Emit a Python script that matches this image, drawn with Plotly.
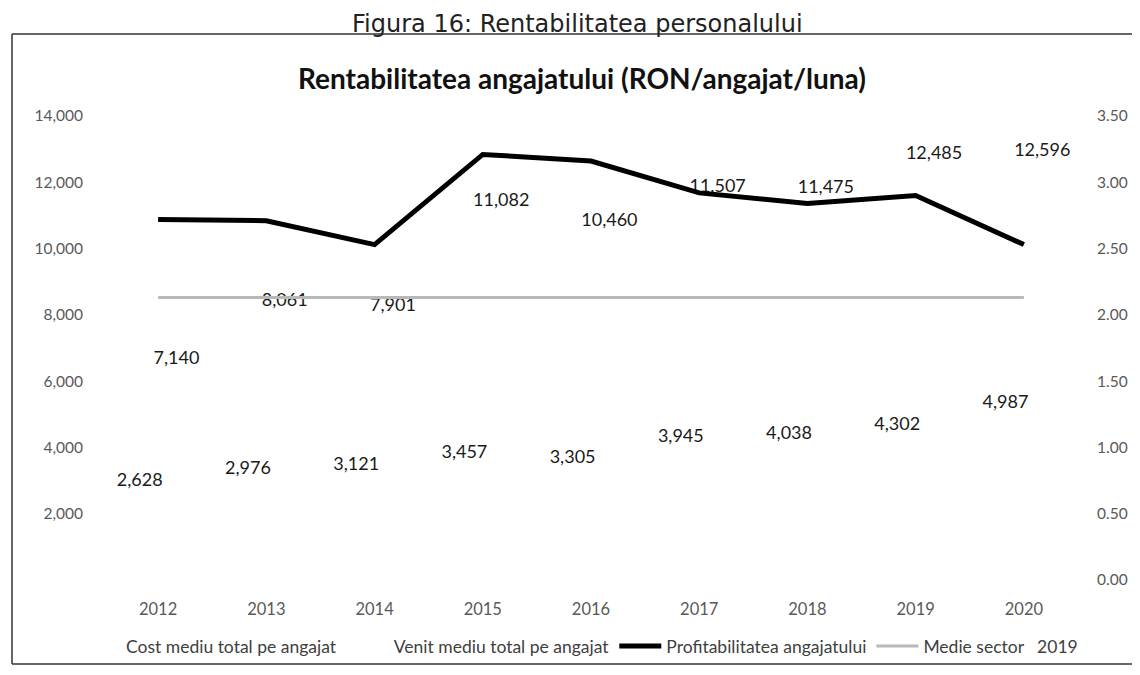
import plotly.graph_objects as go

years = ["2012", "2013", "2014", "2015", "2016", "2017", "2018", "2019", "2020"]
cost_mediu = [2628, 2976, 3121, 3457, 3305, 3945, 4038, 4302, 4987]
venit_mediu = [7140, 8061, 7901, 11082, 10460, 11507, 11475, 12485, 12596]
profitabilitate = [2.72, 2.71, 2.53, 3.21, 3.16, 2.92, 2.84, 2.90, 2.53]
medie_sector = [2.13, 2.13, 2.13, 2.13, 2.13, 2.13, 2.13, 2.13, 2.13]

left_ticks = [2000, 4000, 6000, 8000, 10000, 12000, 14000]
right_ticks = [0, 0.5, 1.0, 1.5, 2.0, 2.5, 3.0, 3.5]

FONT = "Lato"
OFF = 8  # page body margin
W, H = 1132, 667
L, R, T, B = 96, 62, 108, 95
pw, ph = W - L - R, H - T - B


def px(xs):
    return (xs - OFF - L) / pw


def py(ys):
    return (H - B - (ys - OFF)) / ph


venit_pos = ["inside"] + ["outside"] * (len(venit_mediu) - 1)

fig = go.Figure()
fig.add_trace(go.Bar(
    x=years, y=cost_mediu, name="Cost mediu total pe angajat",
    marker=dict(color="rgba(0,0,0,0)", line=dict(width=0)),
    text=cost_mediu, texttemplate="%{y:,}", textposition="outside",
    constraintext="none", textangle=0,
    textfont=dict(family=FONT, size=18, color="#1a1a1a"), cliponaxis=False,
))
fig.add_trace(go.Bar(
    x=years, y=venit_mediu, name="Venit mediu total pe angajat",
    marker=dict(color="rgba(0,0,0,0)", line=dict(width=0)),
    text=venit_mediu, texttemplate="%{y:,}", textposition=venit_pos,
    constraintext="none", textangle=0, insidetextanchor="end",
    textfont=dict(family=FONT, size=18, color="#1a1a1a"),
    insidetextfont=dict(family=FONT, size=18, color="#1a1a1a"),
    outsidetextfont=dict(family=FONT, size=18, color="#1a1a1a"),
    cliponaxis=False,
))
fig.add_trace(go.Scatter(
    x=years, y=profitabilitate, name="Profitabilitatea angajatului",
    mode="lines", line=dict(color="#000000", width=5), yaxis="y2",
))
fig.add_trace(go.Scatter(
    x=years, y=medie_sector, name="Medie sector   2019",
    mode="lines", line=dict(color="#b8b8b8", width=3), yaxis="y2",
))

fig.update_layout(
    width=W, height=H,
    margin=dict(l=L, r=R, t=T, b=B, autoexpand=False),
    paper_bgcolor="white", plot_bgcolor="white",
    barmode="group", bargap=0.32, bargroupgap=0,
    showlegend=True,
    font=dict(family=FONT, size=15, color="#595959"),
    xaxis=dict(
        type="category", showgrid=False, showline=False, zeroline=False,
        ticks="", ticklabelstandoff=17, automargin=False,
        tickfont=dict(family=FONT, size=16.5, color="#595959"),
    ),
    yaxis=dict(
        range=[0, 14000], tickvals=left_ticks, tickformat=",",
        showgrid=False, showline=False, zeroline=False, ticks="",
        ticklabelstandoff=20, automargin=False,
        tickfont=dict(family=FONT, size=15.5, color="#595959"),
    ),
    yaxis2=dict(
        range=[0, 3.5], tickvals=right_ticks, tickformat=".2f",
        overlaying="y", side="right",
        showgrid=False, showline=False, zeroline=False, ticks="",
        ticklabelstandoff=18, automargin=False,
        tickfont=dict(family=FONT, size=15.5, color="#595959"),
    ),
    legend=dict(
        orientation="h", x=px(74), xanchor="left", y=py(646), yanchor="middle",
        font=dict(family=FONT, size=17.5, color="#404040"),
        bgcolor="rgba(0,0,0,0)", traceorder="normal", itemwidth=42,
    ),
    title=dict(
        text="<b>Rentabilitatea angajatului (RON/angajat/luna)</b>",
        x=(582 - OFF) / W, xanchor="center", y=1 - (79 - OFF) / H, yanchor="middle",
        font=dict(family=FONT, size=28, color="#111111"),
    ),
)

fig.add_annotation(
    text="Figura 16: Rentabilitatea personalului",
    xref="paper", yref="paper", x=px(577), y=py(24),
    xanchor="center", yanchor="middle", showarrow=False,
    font=dict(family="DejaVu Sans", size=24, color="#222222"),
)

# outer frame (left, top, bottom)
frame = dict(color="#333333", width=1.5)
fig.add_shape(type="line", xref="paper", yref="paper",
              x0=px(12), y0=py(34), x1=px(12), y1=py(664), line=frame)
fig.add_shape(type="line", xref="paper", yref="paper",
              x0=px(12), y0=py(34), x1=px(1140), y1=py(34), line=frame)
fig.add_shape(type="line", xref="paper", yref="paper",
              x0=px(12), y0=py(664), x1=px(1140), y1=py(664), line=frame)

fig.write_html("out.html")
